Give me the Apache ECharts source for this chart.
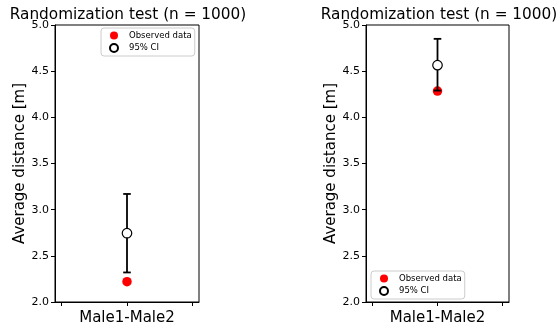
<!DOCTYPE html>
<html>
<head>
<meta charset="utf-8">
<script src="https://cdn.jsdelivr.net/npm/echarts@6/dist/echarts.min.js"></script>
<style>
  html, body { margin: 0; padding: 0; background: #fff; }
  #chart { width: 558px; height: 332px; }
</style>
</head>
<body>
<div id="chart"></div>
<script>
// data
const categories = ['Male1-Male2'];
const yTicks = [2.0, 2.5, 3.0, 3.5, 4.0, 4.5, 5.0];
// left panel
const observedLeft = [2.22];
const ciMeanLeft = [2.745];
const ciLowLeft = [2.32];
const ciHighLeft = [3.17];
// right panel
const observedRight = [4.285];
const ciMeanRight = [4.565];
const ciLowRight = [4.29];
const ciHighRight = [4.85];

const chart = echarts.init(document.getElementById('chart'));
const FONT = 'DejaVu Sans';

function pts(vals) {
  return vals.map((v, i) => [i, v]);
}
function bars(lo, hi) {
  return lo.map((v, i) => [i, v, hi[i]]);
}

function errorBar(params, api) {
  const x = api.value(0);
  const top = api.coord([x, api.value(2)]);
  const bot = api.coord([x, api.value(1)]);
  const cap = 3.8;
  const st = { stroke: '#000', lineWidth: 1.8 };
  return {
    type: 'group',
    children: [
      { type: 'line', shape: { x1: top[0], y1: top[1], x2: bot[0], y2: bot[1] }, style: st },
      { type: 'line', shape: { x1: top[0] - cap, y1: top[1], x2: top[0] + cap, y2: top[1] }, style: st },
      { type: 'line', shape: { x1: bot[0] - cap, y1: bot[1], x2: bot[0] + cap, y2: bot[1] }, style: st }
    ]
  };
}

const grids = [
  { left: 55, top: 25, width: 144, height: 277 },
  { left: 366, top: 25, width: 143, height: 277 }
];

function xAxis(idx) {
  return {
    type: 'value', gridIndex: idx, min: -1.1, max: 1.1,
    axisLine: { show: true, onZero: false, lineStyle: { color: '#000', width: 1 } },
    axisTick: { show: true, customValues: [-1, 0, 1], length: 4, lineStyle: { color: '#000' } },
    axisLabel: {
      customValues: [0], margin: 9, color: '#000', fontFamily: FONT, fontSize: 15,
      formatter: v => categories[Math.round(v)] || ''
    },
    splitLine: { show: false }
  };
}
function yAxis(idx) {
  return {
    type: 'value', gridIndex: idx, min: yTicks[0], max: yTicks[yTicks.length - 1], interval: 0.5,
    name: 'Average distance [m]', nameLocation: 'middle', nameGap: 27,
    nameTextStyle: { color: '#000', fontFamily: FONT, fontSize: 15 },
    axisLine: { show: true, onZero: false, lineStyle: { color: '#000', width: 1 } },
    axisTick: { show: true, length: 4, lineStyle: { color: '#000' } },
    axisLabel: { color: '#000', fontFamily: FONT, fontSize: 11, margin: 6, formatter: v => v.toFixed(1) },
    splitLine: { show: false }
  };
}

function panelSeries(idx, obs, mean, lo, hi) {
  return [
    {
      name: 'Observed data', type: 'scatter', xAxisIndex: idx, yAxisIndex: idx,
      data: pts(obs), symbol: 'circle', symbolSize: 9.5, z: 2,
      itemStyle: { color: '#ff0000', opacity: 1 }
    },
    {
      type: 'custom', xAxisIndex: idx, yAxisIndex: idx, z: 3,
      data: bars(lo, hi), renderItem: errorBar, encode: { x: 0, y: [1, 2] }
    },
    {
      name: '95% CI', type: 'scatter', xAxisIndex: idx, yAxisIndex: idx,
      data: pts(mean), symbol: 'circle', symbolSize: 9.5, z: 4,
      itemStyle: { color: '#fff', borderColor: '#000', borderWidth: 1.2, opacity: 1 }
    }
  ];
}

function legend(left, top) {
  return {
    left: left, top: top, orient: 'vertical',
    data: ['Observed data', '95% CI'],
    icon: 'circle', itemWidth: 8, itemHeight: 8, itemGap: 3,
    padding: [3, 3, 3, 8],
    borderColor: '#cccccc', borderWidth: 1, borderRadius: 3,
    backgroundColor: 'rgba(255,255,255,0.8)',
    textStyle: { color: '#000', fontFamily: FONT, fontSize: 8.5, padding: [0, 0, 0, 6] }
  };
}

chart.setOption({
  animation: false,
  backgroundColor: '#fff',
  title: [
    { text: 'Randomization test (n = 1000)', left: 123, top: 3, textAlign: 'center',
      textStyle: { color: '#000', fontFamily: FONT, fontSize: 15.3, fontWeight: 'normal' } },
    { text: 'Randomization test (n = 1000)', left: 434, top: 3, textAlign: 'center',
      textStyle: { color: '#000', fontFamily: FONT, fontSize: 15.3, fontWeight: 'normal' } }
  ],
  grid: grids.map(g => Object.assign({ show: true, borderColor: '#000', borderWidth: 1, backgroundColor: 'transparent' }, g)),
  legend: [legend(101, 28), legend(371, 271)],
  xAxis: [xAxis(0), xAxis(1)],
  yAxis: [yAxis(0), yAxis(1)],
  series: panelSeries(0, observedLeft, ciMeanLeft, ciLowLeft, ciHighLeft)
    .concat(panelSeries(1, observedRight, ciMeanRight, ciLowRight, ciHighRight))
});
</script>
</body>
</html>
